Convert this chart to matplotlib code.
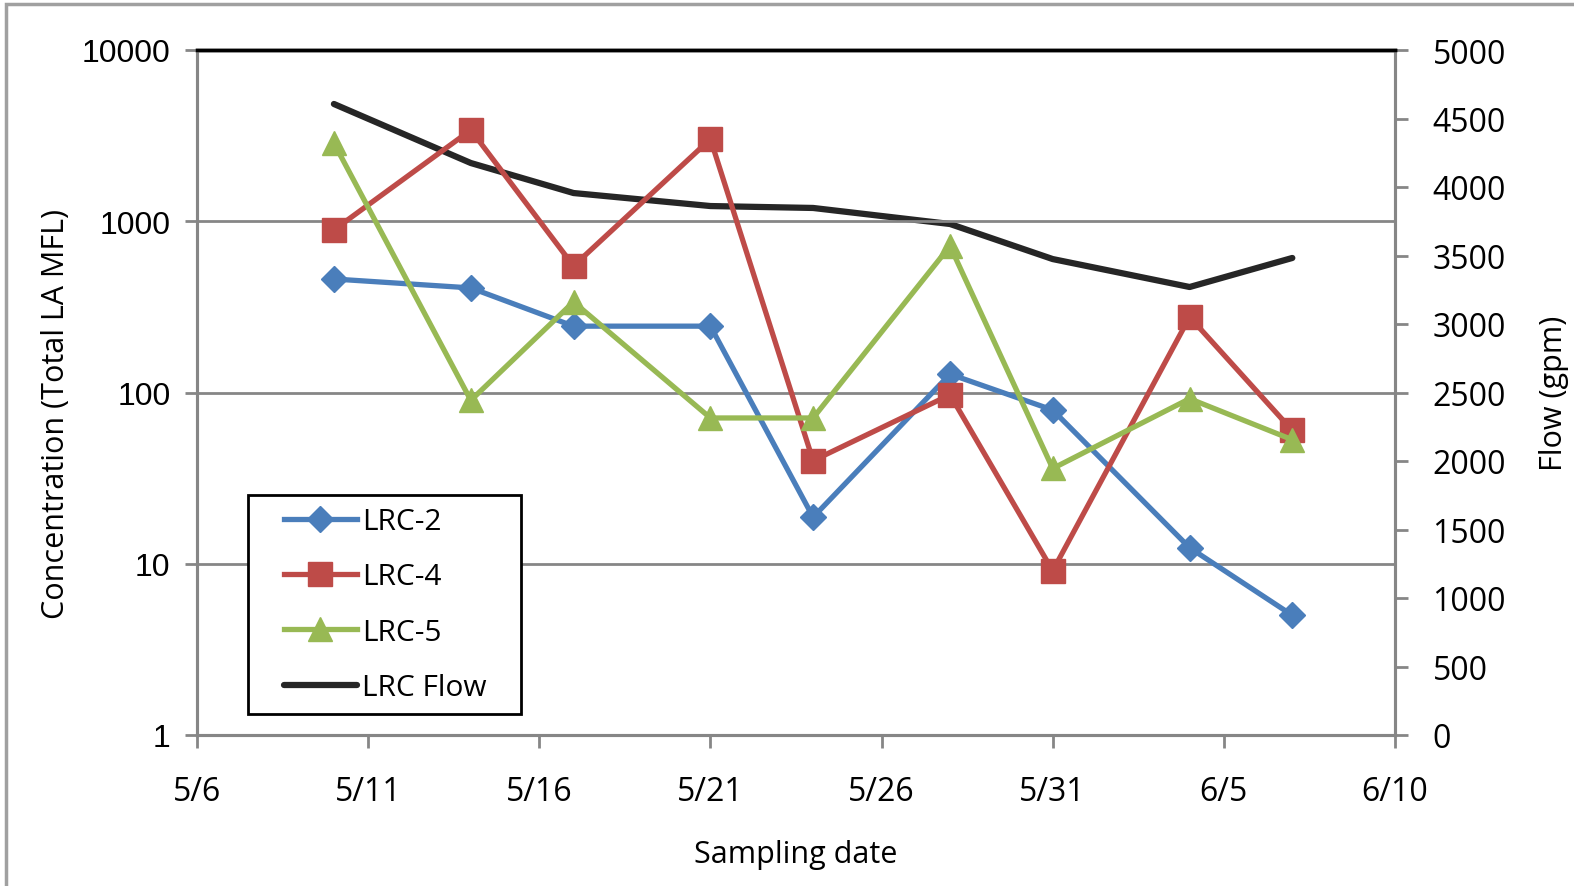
import datetime as dt
import numpy as np
import matplotlib
matplotlib.use("Agg")
import matplotlib.pyplot as plt
from matplotlib.lines import Line2D
from matplotlib.legend_handler import HandlerLine2D
from matplotlib.patches import Rectangle

# Sampling dates (month-day)
dates = ["05-10", "05-14", "05-17", "05-21", "05-24", "05-28", "05-31", "06-04", "06-07"]
lrc2 = [460, 408, 244, 244, 18.7, 128, 79, 12.4, 5.0]
lrc4 = [890, 3410, 548, 3020, 40, 97, 9.1, 276, 60]
lrc5 = [2860, 90, 338, 71, 71, 717, 36, 92, 53]
flow = [4606, 4175, 3956, 3861, 3847, 3730, 3474, 3270, 3482]

conc_ticks = [1, 10, 100, 1000, 10000]
flow_ticks = list(range(0, 5001, 500))

x = [dt.datetime.strptime("2012-" + d, "%Y-%m-%d") for d in dates]
x_start = dt.datetime(2012, 5, 6)
x_end = dt.datetime(2012, 6, 10)

BLUE = "#4a7ebb"
RED = "#be4b48"
GREEN = "#98b954"
BLACK = "#262626"
GRAY = "#868686"

fig = plt.figure(figsize=(15.74, 8.87), dpi=100)
ax = fig.add_axes([197 / 1574, 1 - 736 / 887, (1395 - 197) / 1574, (736 - 51) / 887])
ax2 = ax.twinx()

# outer chart frame
fig.patches.append(Rectangle((6 / 1574, -0.05), 1.1, 1 - 5 / 887 + 0.05, transform=fig.transFigure,
                             fill=False, edgecolor="#a0a0a0", linewidth=2.5))

# concentration series on log axis
ax.plot(x, lrc2, color=BLUE, lw=3.8, marker="D", ms=13, label="LRC-2", zorder=4)
ax.plot(x, lrc4, color=RED, lw=3.8, marker="s", ms=17, label="LRC-4", zorder=4)
ax.plot(x, lrc5, color=GREEN, lw=3.8, marker="^", ms=17, label="LRC-5", zorder=4)
ax.set_yscale("log")
ax.set_ylim(1, 10000)
ax.set_yticks(conc_ticks)
ax.set_yticklabels([str(t) for t in conc_ticks])
ax.yaxis.set_minor_locator(matplotlib.ticker.NullLocator())
ax.set_xlim(x_start, x_end)
ticks = [x_start + dt.timedelta(days=5 * i) for i in range(8)]
ax.set_xticks(ticks)
ax.set_xticklabels([f"{t.month}/{t.day}" for t in ticks])

ax.grid(axis="y", color=GRAY, lw=2)
ax.set_axisbelow(True)

# flow on secondary axis
ax2.plot(x, flow, color=BLACK, lw=4.5, label="LRC Flow", solid_capstyle="round", zorder=3)
ax2.set_ylim(0, 5000)
ax2.set_yticks(flow_ticks)

for a in (ax, ax2):
    for side in ("left", "right", "bottom"):
        a.spines[side].set_color(GRAY)
        a.spines[side].set_linewidth(2.2)
    a.spines["top"].set_color("black")
    a.spines["top"].set_linewidth(2.5)
    a.tick_params(axis="both", which="major", length=9, width=2, color=GRAY, labelcolor="black")

ax.tick_params(axis="y", labelsize=23, pad=10)
for lab in ax.get_yticklabels():
    lab.set_fontfamily("Liberation Sans")
ax.tick_params(axis="x", labelsize=23, pad=20)
for lab in ax.get_xticklabels():
    lab.set_fontfamily("Open Sans")
ax2.tick_params(axis="y", labelsize=23, pad=18)
for lab in ax2.get_yticklabels():
    lab.set_fontfamily("Open Sans")

ax.set_xlabel("Sampling date", fontsize=22, family="Open Sans", labelpad=22)
ax.set_ylabel("Concentration (Total LA MFL)", fontsize=22, family="Open Sans")
ax.yaxis.set_label_coords(-0.105, 0.47)
ax2.set_ylabel("Flow (gpm)", fontsize=22, family="Open Sans", labelpad=24)

ax2.set_zorder(ax.get_zorder() - 1)
ax.patch.set_visible(False)
ax2.patch.set_visible(True)
ax2.patch.set_facecolor("white")

handles = ax.get_lines() + ax2.get_lines()
leg = ax.legend(handles, [h.get_label() for h in handles], loc="lower left",
                bbox_to_anchor=((248 - 197) / 1198, (736 - 715) / 685, (521 - 248) / 1198, (715 - 494) / 685),
                mode="expand", fancybox=False, framealpha=1, edgecolor="black",
                prop={"family": "Open Sans", "size": 21.5}, handlelength=3.25, handletextpad=0.17,
                labelspacing=0.88, borderpad=0.4, borderaxespad=0,
                handler_map={Line2D: HandlerLine2D(xpad=0.8)})
leg.get_frame().set_linewidth(2)

fig.savefig("out.png", dpi=100, facecolor="white")
